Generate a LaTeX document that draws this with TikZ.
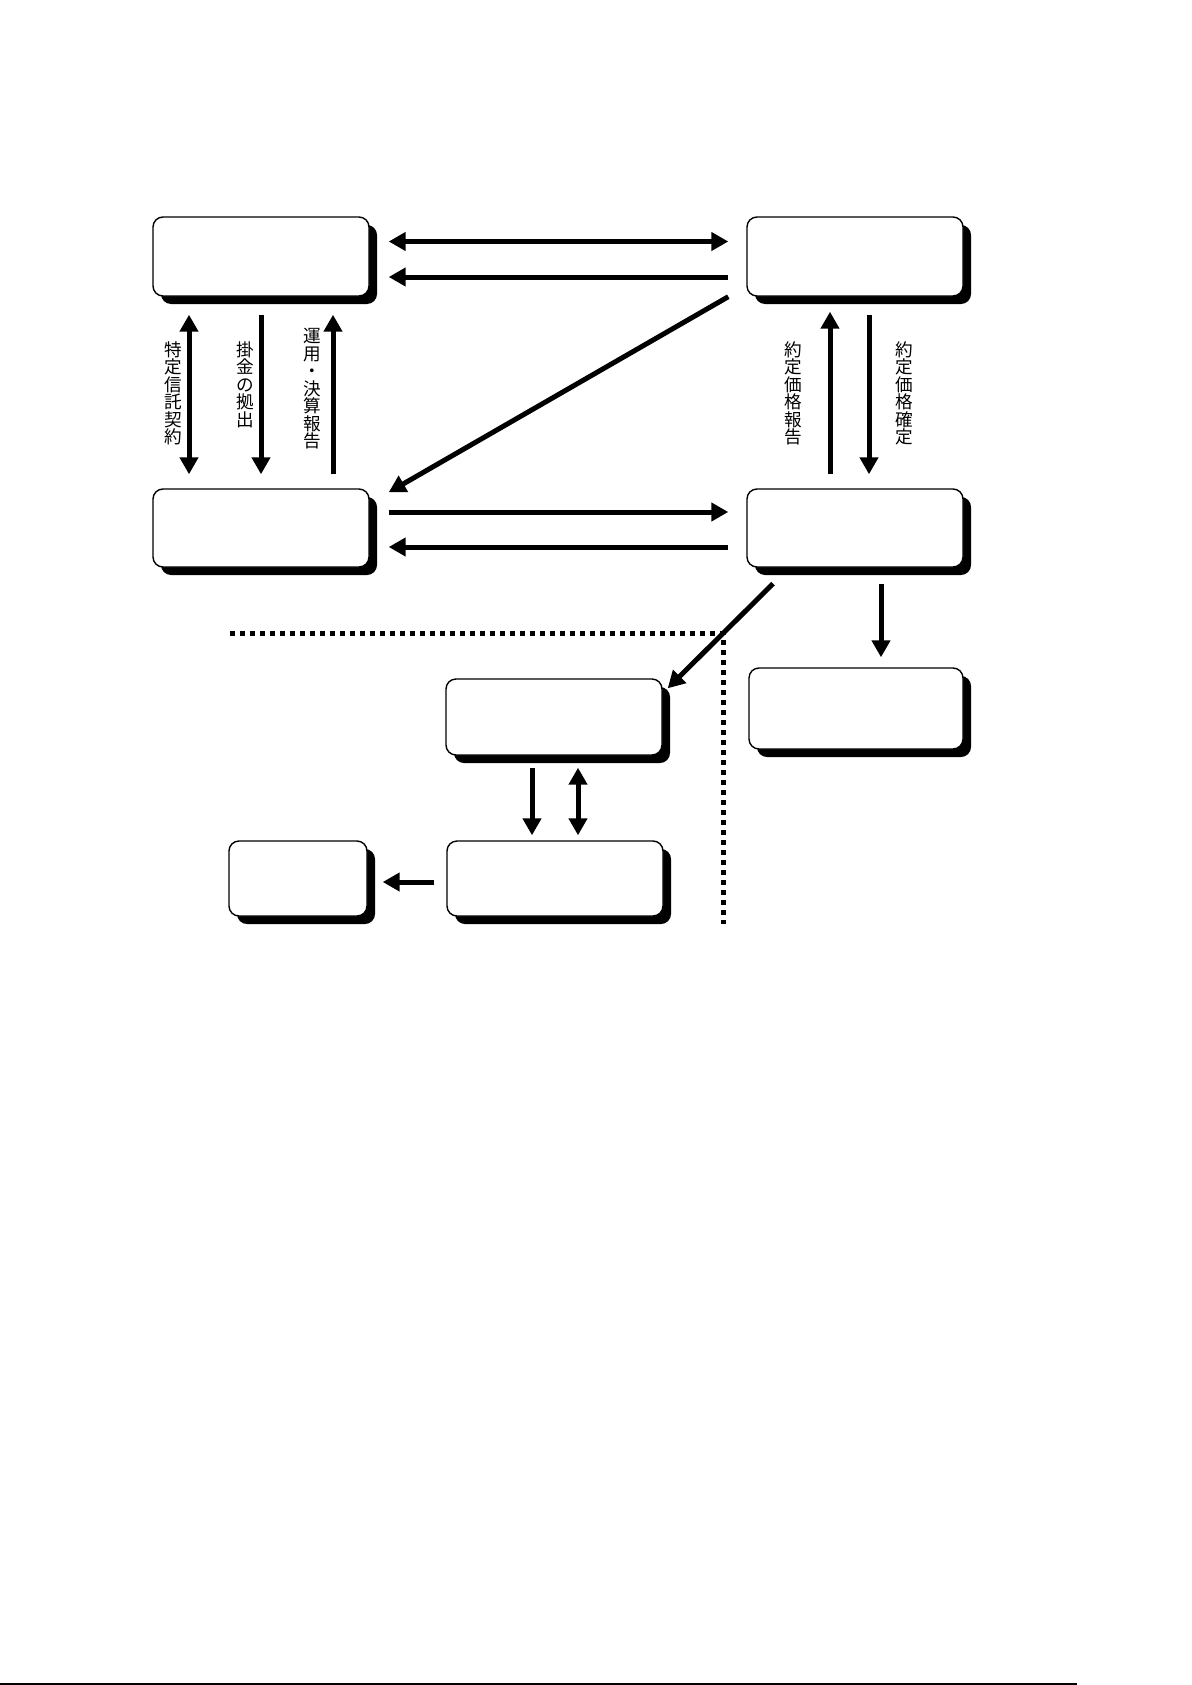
\documentclass[tikz,border=0pt]{standalone}
\usepackage{fontspec}
\newfontfamily\jpfont{Noto Sans CJK JP}
\usetikzlibrary{arrows.meta,shadows}

\begin{document}
\begin{tikzpicture}[x=0.5pt, y=-0.5pt,
	>={Triangle[width=9pt,length=8.5pt]},
	arr/.style={->, line width=2.5pt},
	box/.style={draw, line width=0.7pt, fill=white, rounded corners=5pt, inner sep=0pt,
		minimum width=108pt, minimum height=39.5pt,
		drop shadow={shadow xshift=4pt, shadow yshift=-4pt, fill=black, opacity=1}},
	lbl/.style={anchor=north, inner sep=0pt, align=center, font=\jpfont\fontsize{8.8pt}{8.75pt}\selectfont},
	dotline/.style={line width=2.5pt, dash pattern=on 2.5pt off 2.5pt}]
	\useasboundingbox (0,0) rectangle (1192,1685);
	\node[box] (P1) at (261,256.5) {};
	\node[box] (P2) at (855,256.5) {};
	\node[box, minimum height=39pt] (P3) at (261,528) {};
	\node[box, minimum height=39pt] (P4) at (855,528) {};
	\node[box, minimum height=38pt] (P5) at (554,717) {};
	\node[box, minimum height=37.5pt] (P6) at (555,878.5) {};
	\node[box, minimum width=69pt, minimum height=37.5pt] (P7) at (298,878.5) {};
	\node[box, minimum width=107pt, minimum height=40.5pt] (P8) at (856,708.5) {};
	\node[lbl] (L1) at (173,341) {特\\定\\信\\託\\契\\約};
	\node[lbl] (L2) at (245.5,341) {掛\\金\\の\\拠\\出};
	\node[lbl] (L3) at (312,328) {運\\用\\・\\決\\算\\報\\告};
	\node[lbl] (L4) at (793,341) {約\\定\\価\\格\\報\\告};
	\node[lbl] (L5) at (904,341) {約\\定\\価\\格\\確\\定};
	\draw[arr, <->] ([shift={(19,-15)}]P1.east) -- ([shift={(-18,-15)}]P2.west);
	\draw[arr] ([shift={(-18,20.5)}]P2.west) -- ([shift={(19,20.5)}]P1.east);
	\draw[arr] ([shift={(-18,0)}]P2.south west) -- ([shift={(19,4)}]P3.north east);
	\draw[arr] ([shift={(19,-16)}]P3.east) -- ([shift={(-18,-16)}]P4.west);
	\draw[arr] ([shift={(-18,19)}]P4.west) -- ([shift={(19,19)}]P3.east);
	\draw[arr, <->] ([shift={(-72,18)}]P1.south) -- ([shift={(-72,-14)}]P3.north);
	\draw[arr] ([shift={(0,18)}]P1.south) -- ([shift={(0,-14)}]P3.north);
	\draw[arr] ([shift={(72,-14)}]P3.north) -- ([shift={(72,18)}]P1.south);
	\draw[arr] ([shift={(-25,-14)}]P4.north) -- ([shift={(-25,15)}]P2.south);
	\draw[arr] ([shift={(14,18)}]P2.south) -- ([shift={(14,-14)}]P4.north);
	\draw[arr] ([shift={(-82,16)}]P4.south) -- ([shift={(5,10)}]P5.north east);
	\draw[arr] ([shift={(26,16)}]P4.south) -- ([shift={(25,-10)}]P8.north);
	\draw[arr] ([shift={(-22,12)}]P5.south) -- ([shift={(-23,-5)}]P6.north);
	\draw[arr, <->] ([shift={(24,12)}]P5.south) -- ([shift={(23,-5)}]P6.north);
	\draw[arr] ([shift={(-12,3.5)}]P6.west) -- ([shift={(15,3.5)}]P7.east);
	\draw[dotline] (230,633) -- (723,633) -- (723,924);
	\draw[line width=0.8pt] (0,1684) -- (1077,1684);
\end{tikzpicture}
\end{document}
